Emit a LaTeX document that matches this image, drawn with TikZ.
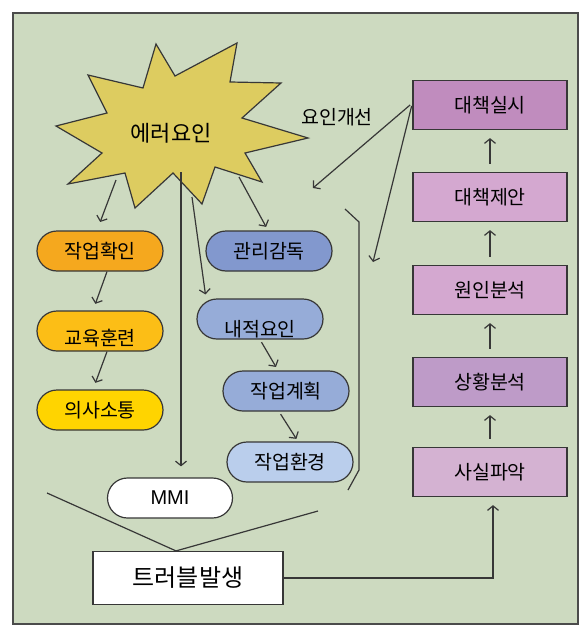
\documentclass[tikz,border=0pt]{standalone}
\usepackage{fontspec}
\setmainfont{Noto Sans CJK KR}
\newfontfamily\latinfont{Liberation Sans}
\usepackage{tikz}
\usetikzlibrary{arrows.meta, positioning, calc}
\definecolor{bggreen}{RGB}{205,218,192}
\definecolor{edge}{RGB}{55,55,55}
\definecolor{staryellow}{RGB}{221,204,96}
\definecolor{orangeA}{RGB}{245,168,30}
\definecolor{orangeB}{RGB}{252,190,22}
\definecolor{yellowC}{RGB}{255,212,0}
\definecolor{blueA}{RGB}{130,152,206}
\definecolor{blueB}{RGB}{150,172,216}
\definecolor{blueC}{RGB}{186,206,236}
\definecolor{plumA}{RGB}{192,140,190}
\definecolor{plumB}{RGB}{212,168,208}
\definecolor{plumC}{RGB}{190,155,200}
\definecolor{plumD}{RGB}{212,178,210}

\tikzset{
  pill/.style={draw=edge, line width=1.2pt, rounded corners=20pt, minimum width=126pt,
    minimum height=40pt, inner sep=0pt, font=\fontsize{19.5}{20}\selectfont},
  stepbox/.style={draw=edge, line width=1.2pt, minimum width=154pt, minimum height=49pt,
    inner sep=0pt, font=\fontsize{19.5}{20}\selectfont},
  arr/.style={-{Straight Barb[length=4.5pt,width=11pt]}, edge, line width=1.2pt},
  plain/.style={edge, line width=1.2pt}
}
\newcommand{\lowtext}[2]{\raisebox{-#1}[0pt][0pt]{#2}}

\begin{document}
\begin{tikzpicture}[x=1pt, y=-1pt]
\useasboundingbox (0,0) rectangle (586,632);
% Frame
\draw[line width=2pt, draw=edge!90, fill=bggreen] (13,13) rectangle (578,624);

% Error star
\draw[plain, fill=staryellow] (156,44) -- (175,76) -- (237,43) -- (230,82) -- (281,83) -- (242,118)
  -- (308,138) -- (245,153) -- (262,182) -- (215,167) -- (202,204) -- (173,173) -- (135,208)
  -- (125,173) -- (68,184) -- (102,153) -- (56,126) -- (107,113) -- (88,75) -- (143,88) -- cycle;
\node[font=\fontsize{22}{22}\selectfont] (err) at (171,133) {에러요인};
\coordinate (err_sw) at (116,180);
\coordinate (err_se) at (239,177);
\coordinate (err_s) at (181,172);
\coordinate (err_ss) at (192,197);

% Left column
\node[pill, fill=orangeA] (wk) at (100,251) {작업확인};
\node[pill, fill=orangeB] (edu) at (100,331) {\lowtext{14pt}{교육훈련}};
\node[pill, fill=yellowC] (com) at (100,410) {의사소통};

% Middle column
\node[pill, fill=blueA] (sup) at (269,251) {관리감독};
\node[pill, fill=blueB] (inner) at (260,319) {\lowtext{17pt}{내적요인}};
\node[pill, fill=blueB] (plan) at (286,391) {작업계획};
\node[pill, fill=blueC] (env) at (290,462) {작업환경};
\node[pill, fill=white, minimum width=125pt, font=\latinfont\fontsize{20}{20}\selectfont] (mmi) at (170,498) {MMI};

% Trouble
\node[draw=edge, line width=1.2pt, fill=white, minimum width=190pt, minimum height=53pt,
  inner sep=0pt, font=\fontsize{24}{24}\selectfont] (trb) at (188,578) {트러블발생};

% Right column
\node[stepbox, fill=plumA] (act) at (490,105) {대책실시};
\node[stepbox, fill=plumB] (prop) at (490,197) {대책제안};
\node[stepbox, fill=plumB] (cause) at (490,290) {원인분석};
\node[stepbox, fill=plumC] (situ) at (490,382) {상황분석};
\node[stepbox, fill=plumD] (fact) at (490,472) {사실파악};

% Star links
\draw[arr, shorten >=9pt] (err_sw) -- ([xshift=-3pt]wk.north);
\draw[arr, shorten >=4pt] (err_se) -- ([xshift=-1pt]sup.north);
\draw[arr, shorten >=4pt] (err_ss) -- ([xshift=-54pt]inner.north);
\draw[arr, shorten >=11pt] (err_s) -- ([xshift=11pt]mmi.north);

% Chains
\draw[arr, shorten >=7pt] ([xshift=7pt]wk.south) -- ([xshift=-7pt]edu.north);
\draw[arr, shorten >=7pt] ([xshift=7pt]edu.south) -- ([xshift=-7pt]com.north);
\draw[arr, shorten <=3pt, shorten >=4pt] (inner.south) -- ([xshift=-8pt]plan.north);
\draw[arr, shorten <=3pt, shorten >=3pt] ([xshift=-7pt]plan.south) -- ([xshift=8pt]env.north);

% Funnel into trouble
\coordinate (fun_l) at (47,493);
\coordinate (fun_r) at (318,511);
\draw[plain] (fun_l) -- ([xshift=-12pt]trb.north) -- (fun_r);

% Bracket
\coordinate (br_a) at (345,209);
\coordinate (br_b) at (359,222);
\coordinate (br_c) at (359,470);
\coordinate (br_d) at (348,490);
\draw[plain] (br_a) -- (br_b) -- (br_c) -- (br_d);

% Steps
\draw[arr, shorten <=8pt, shorten >=8pt] (fact.north) -- (situ.south);
\draw[arr, shorten <=8pt, shorten >=8pt] (situ.north) -- (cause.south);
\draw[arr, shorten <=8pt, shorten >=8pt] (cause.north) -- (prop.south);
\draw[arr, shorten <=8pt, shorten >=8pt] (prop.north) -- (act.south);
\draw[arr, shorten >=8pt] (trb.east) -| ([xshift=3pt]fact.south);

% Feedback
\coordinate (fb_a) at (313,188);
\coordinate (fb_b) at (373,262);
\draw[arr, shorten <=3pt] ([yshift=2pt]act.west) -- (fb_a);
\draw[arr, shorten <=3pt] ([yshift=2pt]act.west) -- (fb_b);
\node[font=\fontsize{19.5}{20}\selectfont] (fb_lbl) at (337,117) {요인개선};
\end{tikzpicture}
\end{document}
